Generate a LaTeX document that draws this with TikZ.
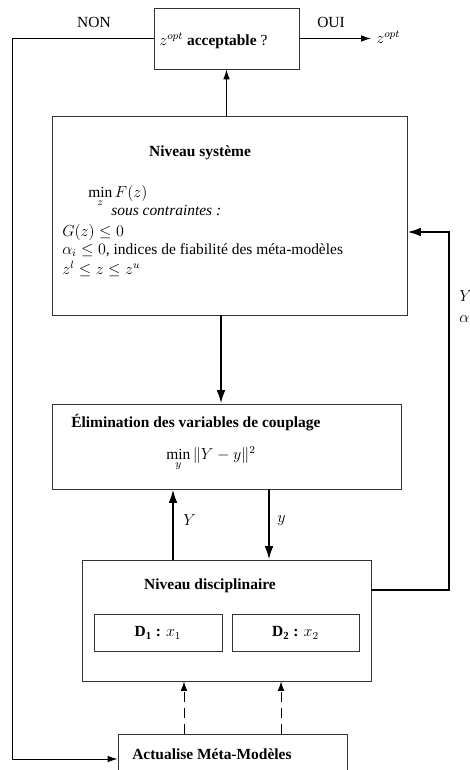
\documentclass[tikz,border=0pt]{standalone}
\usepackage{fontspec}
\setmainfont{Liberation Serif}
\usetikzlibrary{arrows.meta}
\tikzset{
  box/.style={draw=black!80, line width=0.7pt, rectangle, inner sep=0pt},
  txt/.style={inner sep=0pt, font=\fontsize{11.6}{13.5}\selectfont},
  thinarrow/.style={line width=0.75pt, -{Latex[length=7.5pt,width=5pt]}},
  thickarrow/.style={line width=1.5pt, -{Latex[length=10pt,width=6.5pt]}},
  thinline/.style={line width=0.75pt},
  dasharrow/.style={line width=0.75pt, dash pattern=on 7pt off 5pt, -{Latex[length=7pt,width=5pt]}}
}
\begin{document}
\begin{tikzpicture}[x=0.75pt,y=-0.75pt]
\useasboundingbox (0,0) rectangle (469,770);
% boxes
\node[box, minimum width=108.75pt, minimum height=45.75pt] (top) at (226.5,38.5) {};
\node[box, minimum width=266.25pt, minimum height=149.25pt] (sys) at (229.5,215.5) {};
\node[box, minimum width=261.75pt, minimum height=63.75pt] (elim) at (226.5,446.5) {};
\node[box, minimum width=216.75pt, minimum height=90.75pt] (disc) at (226.5,620.5) {};
\node[box, minimum width=96pt, minimum height=27.75pt] (d1) at (158,632.5) {};
\node[box, minimum width=95.25pt, minimum height=27.75pt] (d2) at (295.5,632.5) {};
\node[box, minimum width=171.75pt, minimum height=42pt] (meta) at (232.5,762) {};
% texts
\node[txt, anchor=west] (toptxt) at (159,41) {$z^{opt}$ \textbf{acceptable} ?};
\node[txt] (non) at (94,22) {NON};
\node[txt] (oui) at (331,22) {OUI};
\node[txt, anchor=west] (zopt) at (376,37) {$z^{opt}$};
\node[txt] (systitle) at (200,153) {\textbf{Niveau système}};
\node[txt, anchor=west] (minF) at (88,196) {$\min\limits_{z} F(z)$};
\node[txt, anchor=west] (sous) at (111,210) {\textit{sous contraintes :}};
\node[txt, anchor=west] (gz) at (62,232) {$G(z) \leq 0$};
\node[txt, anchor=west] (alph) at (62,250) {$\alpha_i \leq 0$, indices de fiabilité des méta-modèles};
\node[txt, anchor=west] (zb) at (62,269) {$z^l \leq z \leq z^u$};
\node[txt, anchor=west] (elimtitle) at (71,423) {\textbf{Élimination des variables de couplage}};
\node[txt, anchor=west] (minY) at (166,459) {$\min\limits_{y} \|Y-y\|^2$};
\node[txt] (disctitle) at (210,586) {\textbf{Niveau disciplinaire}};
\node[txt] (d1t) at (158,633) {$\mathbf{D_1}$ \textbf{:} $x_1$};
\node[txt] (d2t) at (295.5,633) {$\mathbf{D_2}$ \textbf{:} $x_2$};
\node[txt, anchor=west] (metat) at (132,754) {\textbf{Actualise Méta-Modèles}};
\node[txt, anchor=west] (Ylab) at (183,520) {$Y$};
\node[txt, anchor=west] (ylab) at (277,521) {$y$};
\node[txt, anchor=west] (Yalab) at (459,296) {$Y$};
\node[txt, anchor=west] (alab) at (459,319) {$\alpha$};
% coordinates
\coordinate (L1) at (12,38.5);
\coordinate (L2) at (12,759);
\coordinate (zend) at (371,38.5);
\coordinate (cA) at (226.5,0);
\coordinate (c1) at (221,0);
\coordinate (cY) at (173,0);
\coordinate (cy) at (269,0);
\coordinate (R1) at (448.5,590);
\coordinate (R2) at (448.5,232);
\coordinate (dA) at (184,0);
\coordinate (dB) at (281,0);
% connectors
\draw[thinarrow] (sys.north -| cA) -- (top.south);
\draw[thinarrow] (top.east) -- (zend);
\draw[thinarrow] (top.west) -- (L1) -- (L2) -- (L2 -| meta.west);
\draw[thickarrow] (sys.south -| c1) -- (elim.north -| c1);
\draw[thickarrow] (disc.north -| cY) -- (elim.south -| cY);
\draw[thickarrow] (elim.south -| cy) -- (disc.north -| cy);
\draw[thickarrow] (disc.east |- R1) -- (R1) -- (R2) -- (sys.east |- R2);
\draw[dasharrow] (meta.north -| dA) -- (disc.south -| dA);
\draw[dasharrow] (meta.north -| dB) -- (disc.south -| dB);
\end{tikzpicture}
\end{document}
